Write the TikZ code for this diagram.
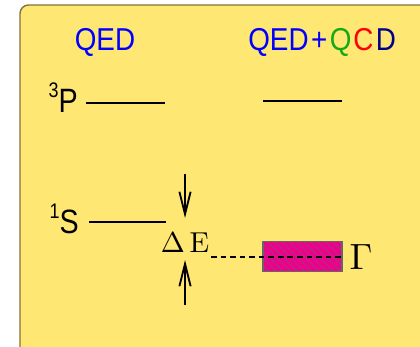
\RequirePackage{fix-cm}
\documentclass[tikz,border=0pt]{standalone}
\usepackage{fontspec}
\newfontfamily\helv{Liberation Sans}
\usetikzlibrary{arrows.meta,patterns.meta}
\definecolor{paleyellow}{RGB}{255,231,115}
\definecolor{qgreen}{RGB}{20,170,20}
\definecolor{darkblue}{RGB}{0,0,140}

\begin{document}
\begin{tikzpicture}[scale=1.0, >={Straight Barb[length=16pt,width=8pt]},
        title/.style={font=\helv\fontsize{22.5}{26}\selectfont, inner sep=0pt},
        state/.style={font=\helv\fontsize{24}{26}\selectfont, inner sep=0pt, anchor=base east},
        level/.style={line width=1.4pt}]
        \useasboundingbox (0, 0) rectangle (10.5, 8.65);
        \clip (0, 0) rectangle (10.5, 8.65);
        \draw [line width=1pt, draw=black!50!paleyellow, fill=paleyellow, rounded corners=6pt] (0.5, -1) rectangle (11.5, 8.525);

        \node (qed) [title, anchor=base, blue] at (2.625, 7.4) {\scalebox{0.88}[1]{QED}};
        \node (qcd) [title, anchor=base west] at (6.2, 7.4) {\scalebox{0.88}[1]{\textcolor{blue}{QED\kern2pt+}\kern2pt\textcolor{qgreen}{Q}\kern1.5pt\textcolor{red}{C}\kern2pt\textcolor{darkblue}{D}}};

        \node (trip) [state] at (1.95, 5.85) {\scalebox{0.85}[1]{\raisebox{0.42em}{\fontsize{15}{15}\selectfont 3}P}};
        \node (sing) [state] at (1.975, 2.825) {\scalebox{0.85}[1]{\raisebox{0.42em}{\fontsize{15}{15}\selectfont 1}S}};

        % levels
        \coordinate (tripa) at (2.15, 6.075);
        \coordinate (tripb) at (6.575, 6.125);
        \coordinate (singa) at (2.225, 3.107);
        \draw [level] (tripa) -- ++(1.975, 0);
        \draw [level] (tripb) -- ++(1.975, 0);
        \draw [level] (singa) -- ++(1.925, 0);

        \node (dE) [anchor=base, inner sep=1pt, font=\normalsize] at (4.625, 2.35) {\scalebox{2.05}{$\Delta\,\mathrm{E}$}};
        \node (wid) [draw=black!60, line width=0.8pt, fill=magenta, minimum width=1.975cm, minimum height=0.75cm,
              postaction={pattern={Lines[angle=-45, distance=3.6pt, line width=0.25pt]}, pattern color=black!60}] at (7.5625, 2.2325) {};
        \node (gam) [anchor=west, inner sep=0pt, font=\normalsize] at ([xshift=0.17cm]wid.east) {\scalebox{2.6}{$\Gamma$}};

        \coordinate (dtail) at (4.625, 4.3);
        \coordinate (dtip) at (4.625, 3.2);
        \coordinate (utail) at (4.625, 1.025);
        \coordinate (utip) at (4.625, 2.15);
        \draw [->, line width=1.3pt] (dtail) -- (dtip);
        \draw [->, line width=1.3pt] (utail) -- (utip);
        \draw [line width=1.4pt, dash pattern=on 4pt off 2.8pt] (5.275, 0 |- wid.center) -- ([xshift=-0.05cm]wid.east);
    \end{tikzpicture}
\end{document}
